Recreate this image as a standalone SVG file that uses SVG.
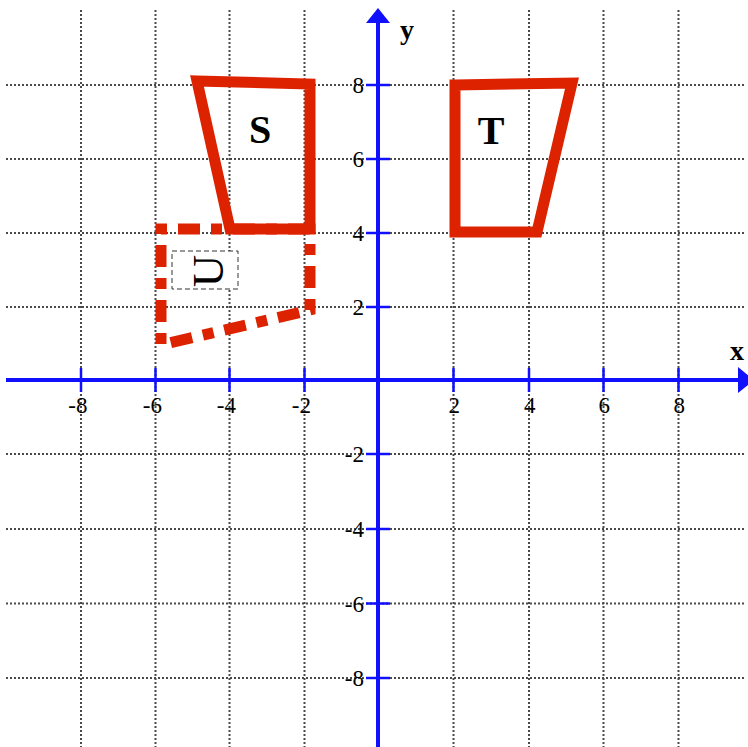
<svg xmlns="http://www.w3.org/2000/svg" width="748" height="747" viewBox="0 0 748 747">
<defs>
<style>
.grid line{stroke:#4a4a4a;stroke-width:2;stroke-dasharray:2 2;}
.axis{stroke:#1010ff;stroke-width:4;fill:none;}
.tick{stroke:#1010ff;stroke-width:2.5;}
.arrow{fill:#1010ff;}
.shape{fill:none;stroke:#dd2200;stroke-width:11;stroke-linejoin:miter;}
.dashed{stroke-dasharray:22 11 11 11;}
.num{font-family:"Liberation Serif","Times New Roman",serif;font-size:23px;fill:#000;}
.lbl{font-family:"Liberation Serif","Times New Roman",serif;font-weight:bold;fill:#000;}
</style>
</defs>
<rect width="748" height="747" fill="#fff"/>
<g id="grid" class="grid">
<line x1="81" y1="10" x2="81" y2="747"/>
<line x1="155.5" y1="10" x2="155.5" y2="747"/>
<line x1="229.5" y1="10" x2="229.5" y2="747"/>
<line x1="304.5" y1="10" x2="304.5" y2="747"/>
<line x1="453.5" y1="10" x2="453.5" y2="747"/>
<line x1="529" y1="10" x2="529" y2="747"/>
<line x1="603.5" y1="10" x2="603.5" y2="747"/>
<line x1="678.5" y1="10" x2="678.5" y2="747"/>
<line x1="6" y1="85" x2="745" y2="85"/>
<line x1="6" y1="159" x2="745" y2="159"/>
<line x1="6" y1="233" x2="745" y2="233"/>
<line x1="6" y1="307" x2="745" y2="307"/>
<line x1="6" y1="454" x2="745" y2="454"/>
<line x1="6" y1="529" x2="745" y2="529"/>
<line x1="6" y1="603.5" x2="745" y2="603.5"/>
<line x1="6" y1="678" x2="745" y2="678"/>
</g>
<g id="axes">
<line class="axis" x1="6" y1="380" x2="742" y2="380"/>
<line class="axis" x1="378" y1="20" x2="378" y2="747"/>
<polygon class="arrow" points="738,367 754,380 738,393"/>
<polygon class="arrow" points="366,23 378,8 390,23"/>
<g id="xticks">
<line class="tick" x1="81" y1="368" x2="81" y2="392"/>
<line class="tick" x1="155.5" y1="368" x2="155.5" y2="392"/>
<line class="tick" x1="229.5" y1="368" x2="229.5" y2="392"/>
<line class="tick" x1="304.5" y1="368" x2="304.5" y2="392"/>
<line class="tick" x1="453.5" y1="368" x2="453.5" y2="392"/>
<line class="tick" x1="529" y1="368" x2="529" y2="392"/>
<line class="tick" x1="603.5" y1="368" x2="603.5" y2="392"/>
<line class="tick" x1="678.5" y1="368" x2="678.5" y2="392"/>
</g>
<g id="yticks">
<line class="tick" x1="366" y1="85" x2="390" y2="85"/>
<line class="tick" x1="366" y1="159" x2="390" y2="159"/>
<line class="tick" x1="366" y1="233" x2="390" y2="233"/>
<line class="tick" x1="366" y1="307" x2="390" y2="307"/>
<line class="tick" x1="366" y1="454" x2="390" y2="454"/>
<line class="tick" x1="366" y1="529" x2="390" y2="529"/>
<line class="tick" x1="366" y1="603.5" x2="390" y2="603.5"/>
<line class="tick" x1="366" y1="678" x2="390" y2="678"/>
</g>
<g id="xlabels" class="num" text-anchor="end">
<text x="87.5" y="413">-8</text>
<text x="162" y="413">-6</text>
<text x="236" y="413">-4</text>
<text x="311" y="413">-2</text>
<text x="460" y="413">2</text>
<text x="535.5" y="413">4</text>
<text x="610" y="413">6</text>
<text x="685" y="413">8</text>
</g>
<g id="ylabels" class="num" text-anchor="end">
<text x="364" y="93">8</text>
<text x="364" y="167">6</text>
<text x="364" y="241">4</text>
<text x="364" y="315">2</text>
<text x="364" y="462">-2</text>
<text x="364" y="537">-4</text>
<text x="364" y="611.5">-6</text>
<text x="364" y="686">-8</text>
</g>
<text class="lbl" x="730" y="360" font-size="28">x</text>
<text class="lbl" x="400" y="39" font-size="28">y</text>
</g>
<g id="connectors"></g>
<g id="S">
<polygon class="shape" points="197,81 310,84 310,229 230,229"/>
<text class="lbl" x="260" y="143" font-size="40" text-anchor="middle">S</text>
</g>
<g id="T">
<polygon class="shape" points="455,85 572,83 537,232 455,232"/>
<text class="lbl" x="491" y="144" font-size="40" text-anchor="middle">T</text>
</g>
<g id="U">
<path class="shape dashed" d="M310,229 L161,229 L161,345 L310,310 Z"/>
<rect x="172" y="251" width="66" height="38" fill="#fff" stroke="#333" stroke-width="1" stroke-dasharray="5 3"/>
<text transform="translate(208,271) rotate(-90)" x="0" y="15" font-family="Liberation Serif, Times New Roman, serif" font-size="45" text-anchor="middle" fill="#000">U</text>
</g>
</svg>
